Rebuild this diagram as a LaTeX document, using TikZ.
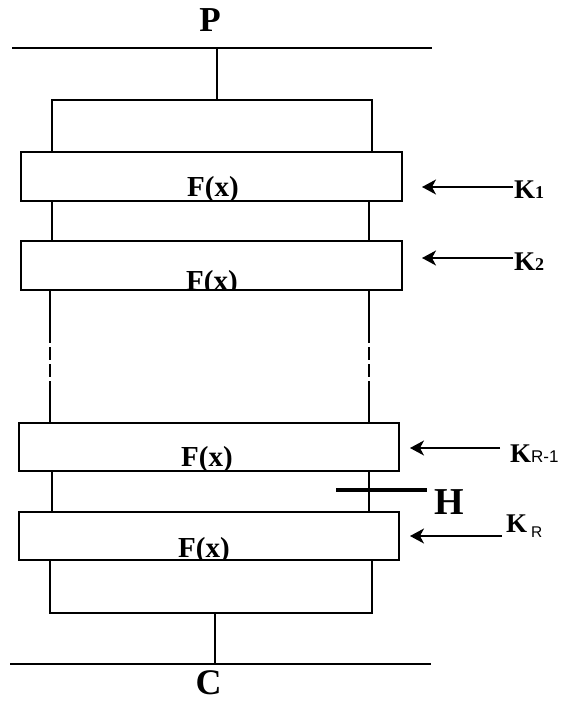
\documentclass[tikz,border=0pt]{standalone}
\usepackage{fontspec}
\setmainfont{Liberation Serif}
\newfontfamily\sansK{Liberation Sans}
\usetikzlibrary{arrows.meta}
\begin{document}
\begin{tikzpicture}[x=1pt,y=-1pt,
  ln/.style={line width=1.5pt},
  fbox/.style={draw, line width=1.6pt, inner sep=0pt, outer sep=0pt, anchor=north west},
  ftext/.style={font=\fontsize{29}{29}\selectfont\bfseries, inner sep=0pt, anchor=base},
  big/.style={font=\fontsize{#1}{#1}\selectfont\bfseries, inner sep=0pt, anchor=base},
  klab/.style={font=\fontsize{27}{27}\selectfont\bfseries, inner sep=0pt, anchor=base west},
  arr/.style={line width=1.5pt, -{Stealth[length=14pt, width=15pt, inset=4pt]}},
  hbar/.style={line width=4pt},
  dsh/.style={line width=1.5pt, dash pattern=on 13pt off 4pt}]
\useasboundingbox (0,0) rectangle (560,701);

% top and bottom bus lines
\coordinate (pl) at (12,48);
\coordinate (pr) at (432,48);
\coordinate (cl) at (10,664);
\coordinate (cr) at (431,664);
\draw[ln] (pl) -- (pr);
\draw[ln] (cl) -- (cr);
\node[big=35] (P) at (210,32) {P};
\node[big=36] (C) at (208.5,694) {C};

% boxes
\node[fbox, minimum width=381pt, minimum height=49pt] (b1) at (21,152) {};
\node[fbox, minimum width=381pt, minimum height=49pt] (b2) at (21,241) {};
\node[fbox, minimum width=380pt, minimum height=48pt] (b3) at (19,423) {};
\node[fbox, minimum width=380pt, minimum height=48pt] (b4) at (19,512) {};

% F(x) texts, clipped to the boxes
\begin{scope}
  \clip ([shift={(0.8pt,0.8pt)}]b1.south west) rectangle ([shift={(-0.8pt,-0.8pt)}]b1.north east);
  \node[ftext] (f1) at (213,196.5) {F(x)};
\end{scope}
\begin{scope}
  \clip ([shift={(0.8pt,0.8pt)}]b2.south west) rectangle ([shift={(-0.8pt,-0.8pt)}]b2.north east);
  \node[ftext] (f2) at (212,290) {F(x)};
\end{scope}
\begin{scope}
  \clip ([shift={(0.8pt,0.8pt)}]b3.south west) rectangle ([shift={(-0.8pt,-0.8pt)}]b3.north east);
  \node[ftext] (f3) at (207,466) {F(x)};
\end{scope}
\begin{scope}
  \clip ([shift={(0.8pt,0.8pt)}]b4.south west) rectangle ([shift={(-0.8pt,-0.8pt)}]b4.north east);
  \node[ftext] (f4) at (204,557.5) {F(x)};
\end{scope}

% column x positions
\coordinate (xa) at (52,0);
\coordinate (xb) at (372,0);
\coordinate (xc) at (369,0);
\coordinate (xd) at (50,0);
\coordinate (xm) at (217,0);
\coordinate (xn) at (215,0);

% top bracket
\coordinate (tl) at (52,100);
\coordinate (tr) at (372,100);
\coordinate (tm) at (217,100);
\draw[ln] (b1.north -| xa) -- (tl) -- (tr) -- (b1.north -| xb);
\draw[ln] (pl -| xm) -- (tm);

% between box 1 and 2
\draw[ln] (b1.south -| xa) -- (b2.north -| xa);
\draw[ln] (b1.south -| xc) -- (b2.north -| xc);

% between box 2 and 3 (broken)
\coordinate (d1) at (0,330);
\coordinate (d2) at (0,382);
\draw[ln] (b2.south -| xd) -- (d1 -| xd);
\draw[dsh] (d1 -| xd) -- (d2 -| xd);
\draw[ln] (d2 -| xd) -- (b3.north -| xd);
\draw[ln] (b2.south -| xc) -- (d1 -| xc);
\draw[dsh] (d1 -| xc) -- (d2 -| xc);
\draw[ln] (d2 -| xc) -- (b3.north -| xc);

% between box 3 and 4
\draw[ln] (b3.south -| xa) -- (b4.north -| xa);
\draw[ln] (b3.south -| xc) -- (b4.north -| xc);

% bottom bracket
\coordinate (bl) at (50,613);
\coordinate (br) at (372,613);
\coordinate (bm) at (215,613);
\draw[ln] (b4.south -| xd) -- (bl) -- (br) -- (b4.south -| xb);
\draw[ln] (bm) -- (cl -| xn);

% H tap
\coordinate (hl) at (336,490);
\coordinate (hr) at (427,490);
\draw[hbar] (hl) -- (hr);
\node[big=38] (H) at (449.5,514) {H};

% key inputs
\node[klab] (k1) at (514,198) {K{\fontsize{18}{18}\selectfont 1}};
\node[klab] (k2) at (514,270) {K{\fontsize{18}{18}\selectfont 2}};
\node[klab] (k3) at (510,462) {K{\sansK\mdseries\fontsize{17}{17}\selectfont R-1}};
\node[klab] (k4) at (506,532) {K\hspace{4pt}\raisebox{-5pt}{\sansK\mdseries\fontsize{15.5}{15.5}\selectfont R}};

\coordinate (a1) at (513,187); \coordinate (h1) at (422,187);
\coordinate (a2) at (513,258); \coordinate (h2) at (422,258);
\coordinate (a3) at (500,448); \coordinate (h3) at (410,448);
\coordinate (a4) at (502,536); \coordinate (h4) at (410,536);
\draw[arr] (a1) -- (h1);
\draw[arr] (a2) -- (h2);
\draw[arr] (a3) -- (h3);
\draw[arr] (a4) -- (h4);
\end{tikzpicture}
\end{document}
